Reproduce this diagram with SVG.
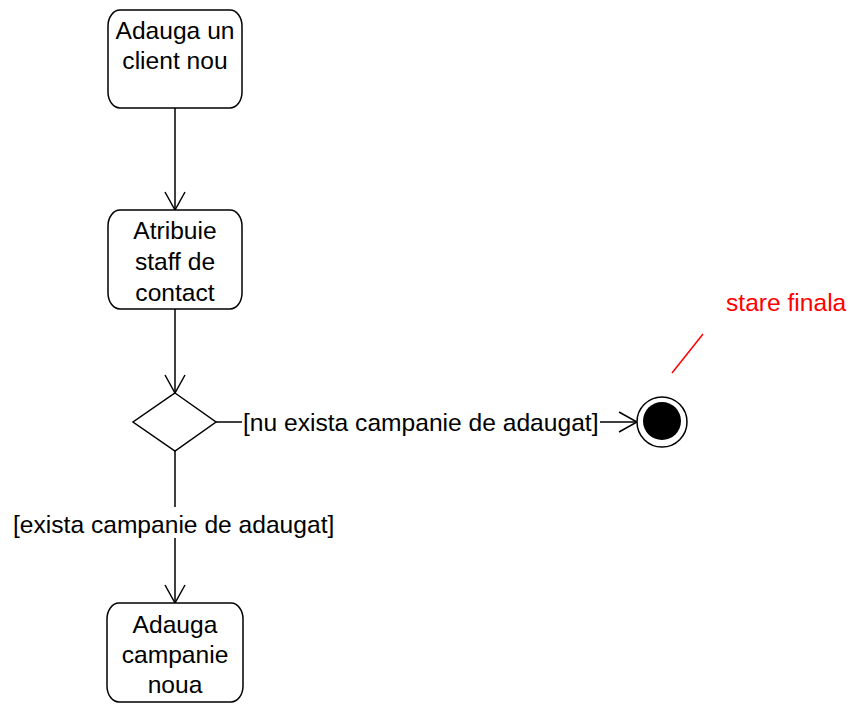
<svg xmlns="http://www.w3.org/2000/svg" width="850" height="705" viewBox="0 0 850 705">
<defs>
<marker id="v" markerUnits="userSpaceOnUse" markerWidth="24" markerHeight="24" refX="19" refY="11" orient="auto" viewBox="0 0 24 24">
<path d="M1,1 L19,11 L1,21" fill="none" stroke="#000" stroke-width="1.5"/>
</marker>
<style>
.box{fill:#fff;stroke:#000;stroke-width:1.5}
.t{font-family:"Liberation Sans",Arial,sans-serif;font-size:24.6px;fill:#000}
.c{text-anchor:middle}
.ln{stroke:#000;stroke-width:1.5;fill:none}
.red{fill:#ff0000}
</style>
</defs>
<rect width="850" height="705" fill="#fff"/>
<g id="connectors">
<line class="ln" x1="175" y1="108" x2="175" y2="210" marker-end="url(#v)"/>
<line class="ln" x1="175" y1="309" x2="175" y2="393" marker-end="url(#v)"/>
<line class="ln" x1="216" y1="422" x2="242" y2="422"/>
<line class="ln" x1="600" y1="422" x2="637" y2="422" marker-end="url(#v)"/>
<text class="t" x="243" y="431">[nu exista campanie de adaugat]</text>
<line class="ln" x1="175" y1="451" x2="175" y2="507"/>
<line class="ln" x1="175" y1="538" x2="175" y2="603" marker-end="url(#v)"/>
<text class="t" x="13" y="533">[exista campanie de adaugat]</text>
</g>
<g id="n1">
<rect class="box" x="108" y="10" width="134" height="98" rx="12" ry="16"/>
<text class="t c" x="175" y="39">Adauga un</text>
<text class="t c" x="175" y="69">client nou</text>
</g>
<g id="n2">
<rect class="box" x="108" y="210" width="134" height="99" rx="12" ry="16"/>
<text class="t c" x="175" y="239">Atribuie</text>
<text class="t c" x="175" y="270">staff de</text>
<text class="t c" x="175" y="301">contact</text>
</g>
<g id="decision">
<polygon class="box" points="175,393 216,422 175,451 133,422"/>
</g>
<g id="final">
<circle cx="662" cy="422" r="25" fill="#fff" stroke="#000" stroke-width="1.5"/>
<circle cx="662" cy="421" r="19" fill="#000"/>
</g>
<g id="note">
<line x1="672" y1="373" x2="703" y2="334" stroke="#ff0000" stroke-width="1.5"/>
<text class="t red" x="726" y="311">stare finala</text>
</g>
<g id="n3">
<rect class="box" x="107" y="603" width="136" height="99" rx="12" ry="16"/>
<text class="t c" x="175" y="633">Adauga</text>
<text class="t c" x="175" y="663">campanie</text>
<text class="t c" x="175" y="693">noua</text>
</g>
</svg>
